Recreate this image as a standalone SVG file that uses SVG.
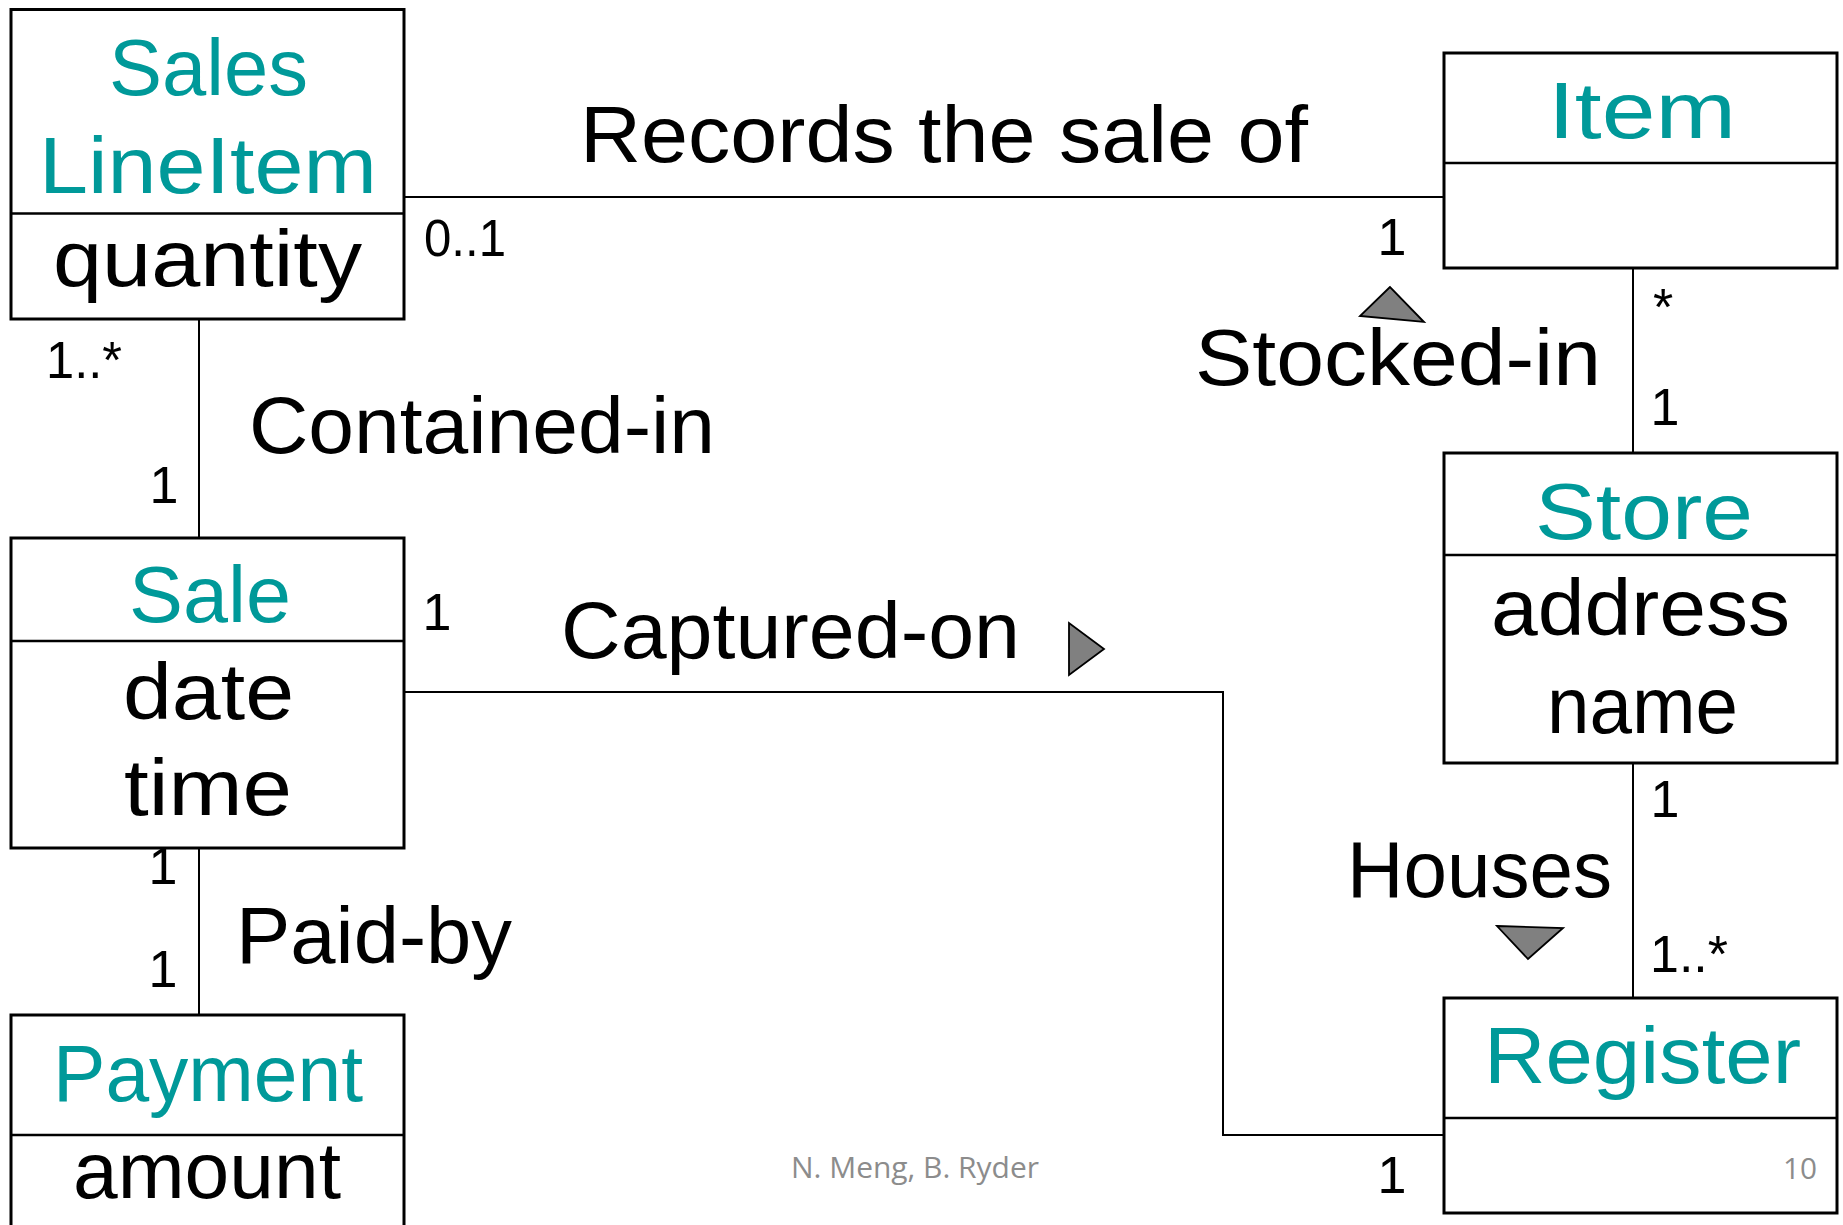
<svg xmlns="http://www.w3.org/2000/svg" width="1843" height="1225" viewBox="0 0 1843 1225">
  <style>
    .box { fill: #ffffff; stroke: #000000; stroke-width: 3; }
    .div { stroke: #000000; stroke-width: 2.5; }
    .conn { fill: none; stroke: #000000; stroke-width: 2; }
    .dir { fill: #808080; stroke: #000000; stroke-width: 1.8; stroke-linejoin: miter; }
    text { font-family: "Liberation Sans", Arial, sans-serif; }
    .cls { font-size: 80px; fill: #009999; }
    .attr { font-size: 80px; fill: #000000; }
    .lbl { font-size: 80px; fill: #000000; }
    .mult { font-size: 52px; fill: #000000; }
    .foot { font-size: 29px; fill: #8c8c8c; font-family: "Open Sans", "Liberation Sans", sans-serif; }
  </style>
  <rect width="1843" height="1225" fill="#ffffff"/>

  <!-- associations -->
  <g id="connectors">
    <line class="conn" x1="404" y1="197" x2="1444" y2="197"/>
    <line class="conn" x1="199" y1="319" x2="199" y2="538"/>
    <line class="conn" x1="199" y1="848" x2="199" y2="1015"/>
    <line class="conn" x1="1633" y1="268" x2="1633" y2="453"/>
    <line class="conn" x1="1633" y1="763" x2="1633" y2="998"/>
    <polyline class="conn" points="404,692 1223,692 1223,1135 1444,1135"/>

    <!-- association names -->
    <text class="lbl" x="580" y="162" textLength="728" lengthAdjust="spacingAndGlyphs">Records the sale of</text>
    <text class="lbl" x="249" y="453" textLength="466" lengthAdjust="spacingAndGlyphs">Contained-in</text>
    <text class="lbl" x="561" y="658" textLength="459" lengthAdjust="spacingAndGlyphs">Captured-on</text>
    <text class="lbl" x="236" y="963" textLength="276" lengthAdjust="spacingAndGlyphs">Paid-by</text>
    <text class="lbl" x="1195" y="385" textLength="406" lengthAdjust="spacingAndGlyphs">Stocked-in</text>
    <text class="lbl" x="1347" y="897" textLength="265" lengthAdjust="spacingAndGlyphs">Houses</text>

    <!-- reading-direction arrows -->
    <polygon class="dir" points="1390,287 1360,316 1424,322"/>
    <polygon class="dir" points="1069,623 1069,675 1104,649"/>
    <polygon class="dir" points="1497,926 1563,928 1528,959"/>

    <!-- multiplicities -->
    <text class="mult" x="424" y="256" textLength="82" lengthAdjust="spacingAndGlyphs">0..1</text>
    <text class="mult" x="1392" y="255" text-anchor="middle">1</text>
    <text class="mult" x="1653" y="325">*</text>
    <text class="mult" x="1665" y="425" text-anchor="middle">1</text>
    <text class="mult" x="1665" y="817" text-anchor="middle">1</text>
    <text class="mult" x="1650" y="972" textLength="78" lengthAdjust="spacingAndGlyphs">1..*</text>
    <text class="mult" x="1392" y="1193" text-anchor="middle">1</text>
    <text class="mult" x="46" y="378" textLength="76" lengthAdjust="spacingAndGlyphs">1..*</text>
    <text class="mult" x="164" y="503" text-anchor="middle">1</text>
    <text class="mult" x="437" y="630" text-anchor="middle">1</text>
    <text class="mult" x="163" y="884" text-anchor="middle">1</text>
    <text class="mult" x="163" y="987" text-anchor="middle">1</text>
  </g>

  <!-- classes -->
  <g id="sales-line-item">
    <rect class="box" x="11" y="9.5" width="393" height="309.5"/>
    <line class="div" x1="11" y1="213.5" x2="404" y2="213.5"/>
    <text class="cls" x="109" y="95" textLength="199" lengthAdjust="spacingAndGlyphs">Sales</text>
    <text class="cls" x="39" y="193" textLength="338" lengthAdjust="spacingAndGlyphs">LineItem</text>
    <text class="attr" x="53" y="286" textLength="309" lengthAdjust="spacingAndGlyphs">quantity</text>
  </g>

  <g id="item">
    <rect class="box" x="1444" y="53" width="393" height="215"/>
    <line class="div" x1="1444" y1="163" x2="1837" y2="163"/>
    <text class="cls" x="1548" y="138" textLength="188" lengthAdjust="spacingAndGlyphs">Item</text>
  </g>

  <g id="store">
    <rect class="box" x="1444" y="453" width="393" height="310"/>
    <line class="div" x1="1444" y1="555" x2="1837" y2="555"/>
    <text class="cls" x="1535" y="539" textLength="218" lengthAdjust="spacingAndGlyphs">Store</text>
    <text class="attr" x="1491" y="635" textLength="299" lengthAdjust="spacingAndGlyphs">address</text>
    <text class="attr" x="1547" y="733" textLength="191" lengthAdjust="spacingAndGlyphs">name</text>
  </g>

  <g id="register">
    <rect class="box" x="1444" y="998" width="393" height="215"/>
    <line class="div" x1="1444" y1="1118" x2="1837" y2="1118"/>
    <text class="cls" x="1484" y="1083" textLength="317" lengthAdjust="spacingAndGlyphs">Register</text>
  </g>

  <g id="sale">
    <rect class="box" x="11" y="538" width="393" height="310"/>
    <line class="div" x1="11" y1="641" x2="404" y2="641"/>
    <text class="cls" x="129" y="622" textLength="162" lengthAdjust="spacingAndGlyphs">Sale</text>
    <text class="attr" x="123" y="719" textLength="171" lengthAdjust="spacingAndGlyphs">date</text>
    <text class="attr" x="124" y="815" textLength="168" lengthAdjust="spacingAndGlyphs">time</text>
  </g>

  <g id="payment">
    <rect class="box" x="11" y="1015" width="393" height="230"/>
    <line class="div" x1="11" y1="1135" x2="404" y2="1135"/>
    <text class="cls" x="53" y="1101" textLength="310" lengthAdjust="spacingAndGlyphs">Payment</text>
    <text class="attr" x="73" y="1198" textLength="268" lengthAdjust="spacingAndGlyphs">amount</text>
  </g>

  <!-- slide footer -->
  <g id="footer">
    <text class="foot" x="791" y="1178" textLength="248" lengthAdjust="spacingAndGlyphs">N. Meng, B. Ryder</text>
    <text class="foot" x="1783" y="1179" textLength="34" lengthAdjust="spacingAndGlyphs">10</text>
  </g>
</svg>
